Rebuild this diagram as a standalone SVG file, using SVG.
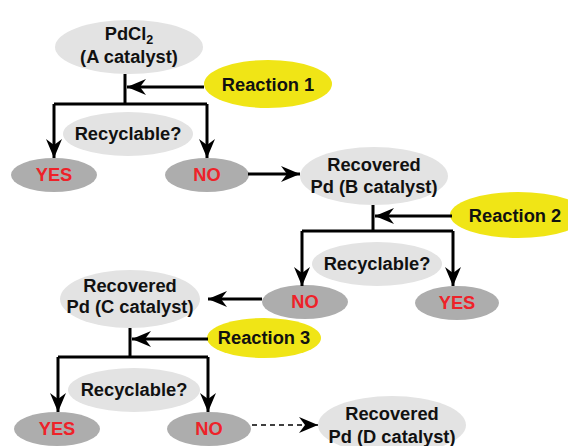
<svg xmlns="http://www.w3.org/2000/svg" width="568" height="446" viewBox="0 0 568 446">
<style>
.cat{fill:#e3e3e3}
.rx{fill:#f0e516}
.ans{fill:#adadad}
.q{fill:#e3e3e3}
text{font-family:"Liberation Sans",Arial,sans-serif;font-weight:bold;font-size:18.3px;text-anchor:middle;fill:#111}
text.r{fill:#ee2229}
.ln{stroke:#000;stroke-width:3;fill:none}
.ar{stroke:#000;stroke-width:3;fill:none;marker-end:url(#ah)}
.da{stroke:#000;stroke-width:1.5;fill:none;stroke-dasharray:5 4;marker-end:url(#ah)}
</style>
<defs>
<marker id="ah" markerUnits="userSpaceOnUse" markerWidth="20" markerHeight="16" refX="19" refY="8" orient="auto" viewBox="0 0 20 16">
<path d="M0,0 L19,8 L0,16 L6,8 z" fill="#000"/>
</marker>
</defs>
<g id="nodeA"><ellipse class="cat" cx="129" cy="47" rx="74" ry="27"/><text x="129" y="40">PdCl<tspan font-size="12.5" dy="4">2</tspan></text><text x="129" y="63">(A catalyst)</text></g>
<g id="reaction1"><ellipse class="rx" cx="268" cy="84" rx="64" ry="24"/><text x="268" y="91">Reaction 1</text></g>
<g id="recyclable1"><ellipse class="q" cx="128" cy="134" rx="65" ry="22"/><text x="128" y="140">Recyclable?</text></g>
<g id="yes1"><ellipse class="ans" cx="54" cy="175" rx="43" ry="17"/><text class="r" x="54" y="181">YES</text></g>
<g id="no1"><ellipse class="ans" cx="207" cy="175" rx="42" ry="17"/><text class="r" x="207" y="181">NO</text></g>
<g id="nodeB"><ellipse class="cat" cx="374" cy="176" rx="74" ry="29"/><text x="374" y="171">Recovered</text><text x="374" y="193">Pd (B catalyst)</text></g>
<g id="reaction2"><ellipse class="rx" cx="518" cy="215" rx="68" ry="23"/><text x="515" y="222">Reaction 2</text></g>
<g id="recyclable2"><ellipse class="q" cx="377" cy="264" rx="65" ry="22"/><text x="377" y="270">Recyclable?</text></g>
<g id="no2"><ellipse class="ans" cx="305" cy="302" rx="43" ry="17"/><text class="r" x="305" y="308">NO</text></g>
<g id="yes2"><ellipse class="ans" cx="457" cy="303" rx="42" ry="17"/><text class="r" x="457" y="309">YES</text></g>
<g id="nodeC"><ellipse class="cat" cx="130" cy="299" rx="70" ry="29"/><text x="130" y="292">Recovered</text><text x="130" y="313">Pd (C catalyst)</text></g>
<g id="reaction3"><ellipse class="rx" cx="264" cy="338" rx="57" ry="20"/><text x="264" y="344">Reaction 3</text></g>
<g id="recyclable3"><ellipse class="q" cx="134" cy="390" rx="66" ry="22"/><text x="134" y="396">Recyclable?</text></g>
<g id="yes3"><ellipse class="ans" cx="57" cy="429" rx="43" ry="17"/><text class="r" x="57" y="435">YES</text></g>
<g id="no3"><ellipse class="ans" cx="209" cy="429" rx="42" ry="17"/><text class="r" x="209" y="435">NO</text></g>
<g id="nodeD"><ellipse class="cat" cx="392" cy="425" rx="74" ry="29"/><text x="392" y="420">Recovered</text><text x="392" y="443">Pd (D catalyst)</text></g>
<g id="connectors">
<path class="ln" d="M125,74 V104 M54,104 H207"/>
<path class="ar" d="M204,87 H127"/>
<path class="ar" d="M54,104 V158"/>
<path class="ar" d="M207,104 V158"/>
<path class="ar" d="M248,174 H300"/>
<path class="ln" d="M373,205 V231 M302,231 H453"/>
<path class="ar" d="M452,216 H375"/>
<path class="ar" d="M302,231 V286"/>
<path class="ar" d="M453,231 V286"/>
<path class="ar" d="M262,299 H208"/>
<path class="ln" d="M130,328 V357 M58,357 H208"/>
<path class="ar" d="M208,339 H132"/>
<path class="ar" d="M58,357 V412"/>
<path class="ar" d="M208,357 V412"/>
<path class="da" d="M252,425 H318"/>
</g>
</svg>
